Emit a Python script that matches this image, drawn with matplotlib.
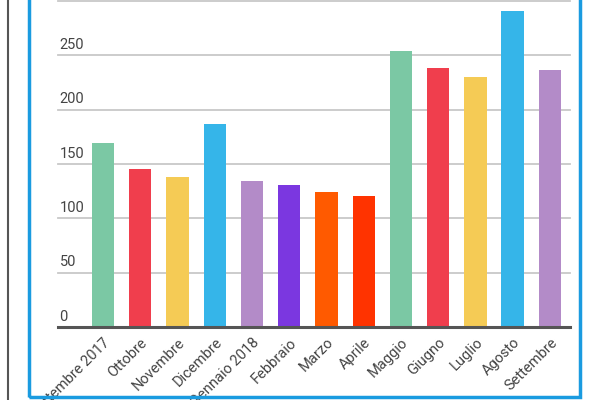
import matplotlib
matplotlib.use("Agg")
import matplotlib.pyplot as plt
from matplotlib.patches import Rectangle
from matplotlib.lines import Line2D

months = ["Settembre 2017", "Ottobre", "Novembre", "Dicembre", "Gennaio 2018", "Febbraio",
          "Marzo", "Aprile", "Maggio", "Giugno", "Luglio", "Agosto", "Settembre"]
values = [169, 145, 138, 187, 134, 131, 124, 121, 254, 238, 230, 291, 237]
colors = ["#7bc8a4", "#f03e4d", "#f5cb55", "#35b5e9", "#b38bc8", "#7b37e0",
          "#ff5a00", "#ff3300", "#7bc8a4", "#f03e4d", "#f5cb55", "#35b5e9", "#b38bc8"]
yticks = [0, 50, 100, 150, 200, 250, 300]

plt.rcParams['font.family'] = ['Roboto', 'DejaVu Sans']
fig = plt.figure(figsize=(6, 4), dpi=100)
fig.patches.append(Rectangle((29/600, 3/400), 551/600, 420/400, transform=fig.transFigure,
                             fill=False, edgecolor="#1a9be0", linewidth=2.5))
fig.lines.append(Line2D([8/600, 8/600], [0, 1], transform=fig.transFigure, color="#555555", lw=1.5))

ax = fig.add_axes([58/600, 73/400, 512/600, 327/400])
x = list(range(len(months)))
ax.bar(x, values, width=0.6, color=colors, zorder=3)
ax.set_xlim(-1.21, 12.54)
ax.set_ylim(0, 301)
for t in yticks:
    ax.axhline(t, color="#c8c8c8" if t else "#555555", lw=1.3 if t else 2.2, zorder=2 if t else 4,
               clip_on=False)
    if t < 300:
        ax.text(-1.17, t + 3, str(t), fontsize=10.5, color="#444444", ha="left", va="bottom")
ax.set_yticks([])
ax.set_xticks(x)
ax.set_xticklabels(months, rotation=45, ha="right", rotation_mode="anchor", fontsize=10.5, color="#444444")
ax.tick_params(axis="x", length=0, pad=6)
for s in ax.spines.values():
    s.set_visible(False)
fig.savefig("out.png", dpi=100)
